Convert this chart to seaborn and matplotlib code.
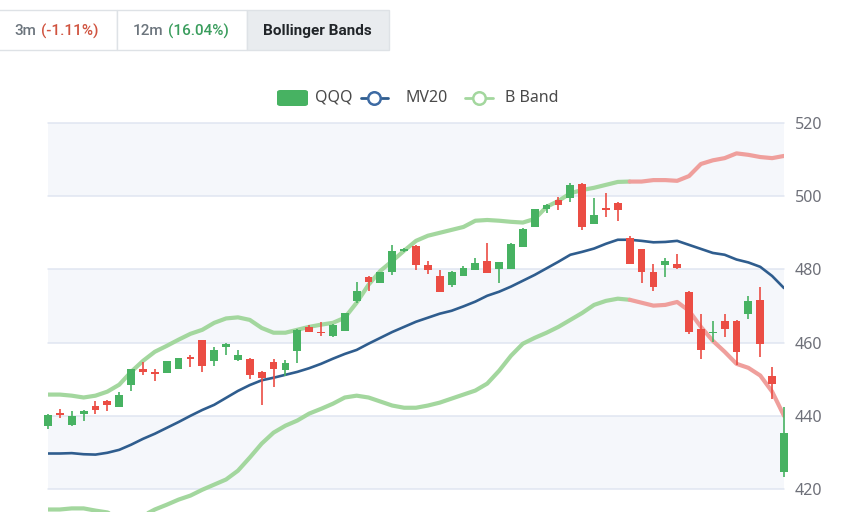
import matplotlib
matplotlib.use("Agg")
import numpy as np
import pandas as pd
import matplotlib.pyplot as plt
import seaborn as sns
from matplotlib.patches import Rectangle, FancyBboxPatch
from matplotlib.lines import Line2D

# ---------------- data ----------------
opens = [437.1, 440.9, 437.4, 440.5, 442.8, 444.1, 442.4, 448.3, 452.8, 452.1,
         451.7, 452.9, 456.2, 460.6, 455.0, 458.9, 455.2, 455.5, 451.9, 454.6,
         452.6, 457.8, 464.2, 463.0, 461.7, 463.3, 471.5, 477.8, 476.3, 479.4,
         484.9, 486.5, 481.2, 478.3, 475.8, 478.2, 479.9, 482.4, 480.2, 480.2,
         486.1, 491.7, 496.4, 499.0, 499.5, 503.4, 492.4, 496.7, 498.1, 488.5,
         485.5, 479.2, 481.2, 481.4, 473.8, 463.7, 462.6, 465.8, 466.0, 467.9,
         471.7, 451.0, 424.6]
closes = [440.3, 440.2, 440.0, 441.4, 441.7, 443.0, 445.8, 452.8, 451.9, 451.5,
          455.0, 455.8, 455.5, 453.5, 457.9, 459.7, 456.5, 451.2, 450.3, 452.9,
          454.4, 463.5, 463.0, 462.6, 464.9, 468.1, 474.2, 476.5, 479.3, 485.1,
          485.5, 481.2, 479.9, 473.8, 479.4, 480.3, 481.7, 479.0, 481.9, 487.0,
          491.1, 496.4, 497.6, 497.6, 503.1, 491.6, 494.9, 496.3, 496.3, 481.5,
          479.4, 475.1, 482.3, 480.5, 462.9, 458.0, 463.0, 463.7, 457.4, 471.3,
          459.6, 448.7, 435.3]
highs = [440.5, 441.9, 441.4, 441.7, 444.1, 444.3, 446.4, 452.9, 454.7, 452.8,
         455.1, 455.9, 456.7, 460.8, 458.9, 459.8, 458.0, 455.7, 452.3, 455.5,
         455.3, 463.6, 464.9, 465.5, 465.0, 468.2, 476.5, 478.3, 479.4, 486.7,
         485.9, 486.6, 482.4, 479.7, 479.5, 480.8, 483.0, 487.2, 482.0, 487.1,
         491.2, 496.5, 497.8, 499.9, 503.6, 503.6, 499.6, 501.0, 498.3, 489.0,
         485.6, 481.5, 483.2, 484.2, 474.0, 467.8, 465.8, 467.8, 466.2, 472.6,
         475.3, 453.3, 442.4]
lows = [436.4, 439.4, 437.2, 438.5, 440.5, 441.4, 442.3, 446.9, 451.2, 449.4,
        451.6, 452.8, 453.2, 451.9, 453.7, 456.7, 455.1, 450.1, 443.0, 447.9,
        451.0, 454.4, 462.8, 461.9, 461.6, 463.2, 470.9, 474.2, 476.2, 478.5,
        484.7, 479.7, 478.7, 473.7, 475.1, 478.1, 479.8, 478.9, 476.3, 480.1,
        486.0, 491.6, 495.5, 496.3, 498.5, 490.8, 492.3, 494.2, 493.3, 481.4,
        476.3, 474.0, 477.8, 480.2, 462.4, 455.5, 460.3, 461.5, 454.0, 466.4,
        456.0, 444.6, 423.3]
mv20 = [429.7, 429.7, 429.8, 429.5, 429.4, 429.9, 430.7, 432.1, 433.7, 435.1,
        436.7, 438.3, 440.0, 441.6, 443.0, 444.9, 446.8, 448.4, 449.7, 450.4,
        451.2, 452.0, 453.0, 454.2, 455.6, 456.9, 458.0, 459.7, 461.3, 462.9,
        464.3, 465.7, 466.8, 467.9, 468.7, 469.9, 471.2, 472.8, 473.9, 475.3,
        476.9, 478.5, 480.3, 482.1, 484.0, 484.8, 485.7, 487.0, 488.1, 488.1,
        487.8, 487.4, 487.5, 487.8, 486.7, 485.6, 484.5, 484.0, 482.7, 481.9,
        480.7, 478.2, 474.9]
upper_band = [445.8, 445.8, 445.5, 445.0, 445.5, 446.6, 448.5, 452.0, 455.0, 457.5,
              459.1, 460.8, 462.4, 463.5, 465.4, 466.6, 466.9, 466.2, 464.0, 462.7,
              462.7, 463.5, 464.3, 464.9, 465.4, 466.8, 470.9, 475.8, 479.6, 482.3,
              485.1, 487.8, 489.2, 490.0, 490.8, 491.6, 493.3, 493.5, 493.3, 493.0,
              492.8, 493.8, 497.1, 498.7, 500.8, 501.7, 502.3, 503.1, 503.9, 504.0,
              504.0, 504.4, 504.4, 504.2, 505.5, 508.8, 509.8, 510.4, 511.7, 511.3,
              510.7, 510.4, 511.0]
lower_band = [414.4, 414.4, 414.7, 414.7, 414.1, 413.6, 412.2, 411.1, 412.7, 414.4,
              415.7, 417.1, 418.2, 419.8, 421.2, 422.6, 425.0, 428.6, 432.4, 435.4,
              437.3, 438.7, 440.6, 441.9, 443.3, 445.0, 445.5, 445.0, 443.9, 442.8,
              442.2, 442.2, 442.8, 443.6, 444.7, 445.8, 446.9, 448.8, 452.3, 456.4,
              459.7, 461.3, 462.7, 464.3, 466.2, 468.1, 470.3, 471.4, 472.0, 471.7,
              470.9, 470.1, 470.3, 471.1, 468.7, 464.3, 460.5, 457.5, 454.2, 453.1,
              451.0, 446.6, 440.0]
band_color_switch = 49          # index where the bands change from green to red
y_ticks = [420, 440, 460, 480, 500, 520]
tab_labels = ["3m", "(-1.11%)", "12m", "(16.04%)", "Bollinger Bands"]
legend_labels = ["QQQ", "MV20", "B Band"]

n = len(opens)
for arr in (closes, highs, lows, mv20, upper_band, lower_band):
    assert len(arr) == n, len(arr)

df = pd.DataFrame({"day": np.arange(n), "open": opens, "close": closes,
                   "high": highs, "low": lows, "mv20": mv20,
                   "upper": upper_band, "lower": lower_band})

# ---------------- style ----------------
sns.set_style("white")
plt.rcParams["font.family"] = ["Noto Sans", "DejaVu Sans"]

GREEN = "#47b262"
RED = "#eb4d44"
BAND_GREEN = "#a3d79e"
BAND_RED = "#ef9f9c"
MV_BLUE = "#2f5d8e"
GRID = "#e0e6f1"
SPLIT = "#f5f7fb"

W, H = 845, 512
fig = plt.figure(figsize=(W / 100, H / 100), dpi=100)
fig.patch.set_facecolor("white")

ax_left, ax_right, ax_top = 48, 784, 123
ax = fig.add_axes([ax_left / W, 0, (ax_right - ax_left) / W, (H - ax_top) / H])
ymin = 420 - (H - 489) / ((489 - 123) / 100.0)
ax.set_ylim(ymin, 520)
ax.set_xlim(0, n - 1)
ax.set_facecolor("white")

# split areas & grid
for k in range(len(y_ticks) - 1):
    if k % 2 == 0:
        ax.axhspan(y_ticks[k], y_ticks[k + 1], color=SPLIT, zorder=0, lw=0)
for t in y_ticks:
    ax.axhline(t, color=GRID, lw=1.1, zorder=0.5, clip_on=False)

# lines
sns.lineplot(data=df, x="day", y="mv20", ax=ax, color=MV_BLUE, linewidth=1.9,
             zorder=2, legend=False)
sw = band_color_switch
for col in ("upper", "lower"):
    sns.lineplot(data=df.iloc[:sw + 1], x="day", y=col, ax=ax, color=BAND_GREEN,
                 linewidth=3.0, zorder=1.5, legend=False, solid_capstyle="round")
    sns.lineplot(data=df.iloc[sw:], x="day", y=col, ax=ax, color=BAND_RED,
                 linewidth=3.0, zorder=1.5, legend=False, solid_capstyle="round")

# candles
up = df["close"] >= df["open"]
colors = np.where(up, GREEN, RED)
body_low = df[["open", "close"]].min(axis=1)
body_h = (df["close"] - df["open"]).abs().clip(lower=0.35)
ax.vlines(df["day"], df["low"], df["high"], colors=colors, lw=1.2, zorder=3,
          clip_on=False)
ax.bar(df["day"], body_h, bottom=body_low, width=0.66, color=colors,
       zorder=3.1, clip_on=False, linewidth=0)

# axes cosmetics
for s in ax.spines.values():
    s.set_visible(False)
ax.set_xlabel("")
ax.set_ylabel("")
ax.set_xticks([])
ax.yaxis.tick_right()
ax.set_yticks(y_ticks)
ax.set_yticklabels([str(t) for t in y_ticks])
ax.tick_params(axis="y", length=0, pad=8, labelsize=11.5, labelcolor="#6e7079")

# ---------------- tabs ----------------
ty0, ty1 = 10, 50
def fx(px):
    return px / W
def fy(py):
    return 1 - py / H
tab_edges = [(-6, 117, "white"), (117, 247, "white"), (247, 389, "#e9ecef")]
for x0, x1, fc in tab_edges:
    fig.patches.append(Rectangle((fx(x0), fy(ty1)), fx(x1 - x0), (ty1 - ty0) / H,
                                 transform=fig.transFigure, facecolor=fc,
                                 edgecolor="#dee2e6", lw=1.0, zorder=1))
tab_y = fy(31)
tab_font = dict(family=["Roboto", "DejaVu Sans"], fontsize=11, va="center",
                ha="left", weight="medium")
fig.text(fx(14), tab_y, tab_labels[0], color="#6c757d", **tab_font)
fig.text(fx(41), tab_y, tab_labels[1], color="#d0533f", **tab_font)
fig.text(fx(133), tab_y, tab_labels[2], color="#6c757d", **tab_font)
fig.text(fx(168), tab_y, tab_labels[3], color="#3a9d5d", **tab_font)
fig.text(fx(263), tab_y, tab_labels[4], color="#212529",
         **{**tab_font, "weight": "bold"})

# ---------------- legend ----------------
ly = fy(98)
fig.patches.append(FancyBboxPatch((fx(277), fy(106)), fx(31), 16 / H,
                                  boxstyle="round,pad=0,rounding_size=0.004",
                                  transform=fig.transFigure, facecolor=GREEN,
                                  edgecolor="none"))
leg_font = dict(fontsize=11.5, color="#4a4a4a", va="center", ha="left")
fig.text(fx(315), ly, legend_labels[0], **leg_font)
fig.lines.append(Line2D([fx(361), fx(388)], [ly, ly], transform=fig.transFigure,
                        color=MV_BLUE, lw=2))
fig.lines.append(Line2D([fx(374.5)], [ly], transform=fig.transFigure, marker="o",
                        markersize=9, markerfacecolor="white",
                        markeredgecolor="#3d6aa3", markeredgewidth=1.8))
fig.text(fx(406), ly, legend_labels[1], **leg_font)
fig.lines.append(Line2D([fx(465), fx(493)], [ly, ly], transform=fig.transFigure,
                        color=BAND_GREEN, lw=2))
fig.lines.append(Line2D([fx(479)], [ly], transform=fig.transFigure, marker="o",
                        markersize=9, markerfacecolor="white",
                        markeredgecolor=BAND_GREEN, markeredgewidth=1.8))
fig.text(fx(505), ly, legend_labels[2], **leg_font)

fig.savefig("out.png", dpi=100)
